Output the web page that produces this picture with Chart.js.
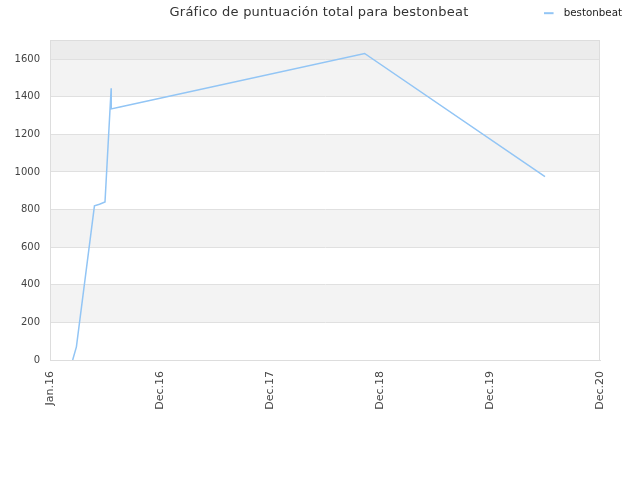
<!DOCTYPE html>
<html><head><meta charset="utf-8">
<script src="https://cdn.jsdelivr.net/npm/chart.js@4.4.0/dist/chart.umd.min.js"></script>
<style>html,body{margin:0;padding:0;background:#fff}#wrap{width:640px;height:480px}</style>
</head><body><div id="wrap"><canvas id="c"></canvas></div>
<script>
const xLabels = ['Jan.16','Dec.16','Dec.17','Dec.18','Dec.19','Dec.20'];
const xPos = [0.206, 0.24, 0.404, 0.45, 0.5, 0.556, 0.557, 0.636, 2.86, 4.5];
const scores = [0, 70, 820, 828, 840, 1445, 1335, 1345, 1630, 975];
const seriesName = 'bestonbeat';
const titleText = 'Gráfico de puntuación total para bestonbeat';

const FONT = "'DejaVu Sans', sans-serif";
const LINE_COLOR = '#92c5f5';

// legend swatch: short line with extra room before the text
const swatch = document.createElement('canvas');
swatch.width = 15; swatch.height = 4;
(function () {
  const g = swatch.getContext('2d');
  g.fillStyle = LINE_COLOR;
  g.fillRect(0, 1, 10, 2);
})();

const bands = {
  id: 'bands',
  beforeDraw(chart) {
    const {ctx, chartArea: a, scales: {y}} = chart;
    ctx.save();
    ctx.fillStyle = '#fff';
    ctx.fillRect(0, 0, chart.width, chart.height);
    const t = y.ticks.map(k => k.value);
    for (let i = 0; i < t.length; i++) {
      const v0 = t[i];
      const v1 = i + 1 < t.length ? t[i + 1] : y.max;
      if (v1 <= v0) continue;
      let col = null;
      if (i === t.length - 1) col = '#ececec';
      else if (i % 2 === 1) col = '#f3f3f3';
      if (!col) continue;
      const p0 = y.getPixelForValue(v0), p1 = y.getPixelForValue(v1);
      ctx.fillStyle = col;
      ctx.fillRect(a.left, p1, a.right - a.left, p0 - p1);
    }
    ctx.restore();
  },
  afterDraw(chart) {
    const {ctx} = chart;
    ctx.save();
    ctx.font = "13px " + FONT;
    try { ctx.letterSpacing = '0.22px'; } catch (e) {}
    ctx.fillStyle = '#333';
    ctx.textAlign = 'center';
    ctx.textBaseline = 'middle';
    ctx.fillText(titleText, 319, 13);
    ctx.restore();
  }
};

const frame = {
  id: 'frame',
  afterDatasetsDraw(chart) {
    const {ctx, chartArea: a} = chart;
    ctx.save();
    ctx.strokeStyle = '#dddddd';
    ctx.lineWidth = 1;
    ctx.strokeRect(Math.round(a.left) + 0.5, Math.round(a.top) + 0.5,
                   Math.round(a.right - a.left) - 1, Math.round(a.bottom - a.top));
    ctx.restore();
  }
};

new Chart(document.getElementById('c'), {
  type: 'line',
  data: {
    datasets: [{
      label: seriesName,
      data: xPos.map((x, i) => ({x, y: scores[i]})),
      borderColor: LINE_COLOR,
      backgroundColor: LINE_COLOR,
      borderWidth: 1.5,
      pointRadius: 0,
      pointStyle: swatch,
      fill: false,
      tension: 0
    }]
  },
  plugins: [bands, frame],
  options: {
    responsive: true,
    maintainAspectRatio: false,
    animation: false,
    devicePixelRatio: 1,
    layout: {padding: {left: 0, right: 10, top: 0, bottom: 66}},
    plugins: {
      title: {display: false},
      tooltip: {enabled: false},
      legend: {
        position: 'top', align: 'end',
        labels: {usePointStyle: true, pointStyleWidth: 15, boxHeight: 4,
                 font: {family: FONT, size: 10.3}, color: '#222', padding: 8}
      }
    },
    scales: {
      x: {
        type: 'linear', min: 0, max: 5,
        ticks: {stepSize: 1, autoSkip: false, maxRotation: 90, minRotation: 90,
          font: {family: FONT, size: 11}, color: '#444', padding: 11,
          callback: v => xLabels[Math.round(v)]},
        grid: {display: false, drawTicks: false},
        border: {display: true, color: '#dddddd'},
        afterFit: s => { s.height = 54; }
      },
      xTop: {
        type: 'linear', position: 'top', display: true,
        ticks: {display: false}, grid: {display: false, drawTicks: false},
        border: {display: false},
        afterFit: s => { s.height = 12; }
      },
      y: {
        min: 0, max: 1700,
        ticks: {stepSize: 200, font: {family: FONT, size: 10}, color: '#444', padding: 10,
          callback: v => String(v)},
        afterBuildTicks: s => { s.ticks = s.ticks.filter(t => t.value % 200 === 0); },
        grid: {color: '#e0e0e0', drawTicks: false},
        border: {display: true, color: '#dddddd'},
        afterFit: s => { s.width = 50; }
      },
      yRight: {
        type: 'linear', position: 'right', display: true,
        ticks: {display: false}, grid: {display: false, drawTicks: false},
        border: {display: false},
        afterFit: s => { s.width = 30; }
      }
    }
  }
});
</script></body></html>
